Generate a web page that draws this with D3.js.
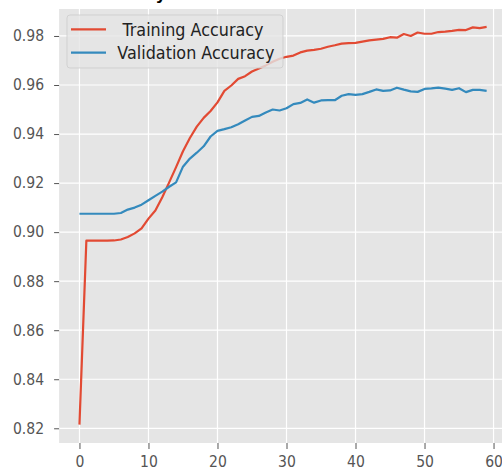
<!doctype html>
<html>
  <head>
    <meta charset="utf-8">
    <title>Training and Validation Accuracy</title>
    <script src="https://cdnjs.cloudflare.com/ajax/libs/d3/7.8.5/d3.min.js"></script>
    <style>
      body { margin: 0; background: #fff; }
      svg { display: block; font-family: "DejaVu Sans", sans-serif; }
    </style>
  </head>
  <body>
    <div id="chart"></div>
    <script>
      // data
      const epochs = d3.range(60);
      const trainAcc = [
        0.8215, 0.8965, 0.8965, 0.8965, 0.8965, 0.8966, 0.8970, 0.8980, 0.8995, 0.9015,
        0.9055, 0.9088, 0.9142, 0.9203, 0.9265, 0.9330, 0.9384, 0.9430, 0.9466, 0.9494,
        0.9529, 0.9576, 0.9598, 0.9625, 0.9636, 0.9655, 0.9667, 0.9680, 0.9695, 0.9707,
        0.9715, 0.9720, 0.9733, 0.9740, 0.9743, 0.9748, 0.9756, 0.9762, 0.9769, 0.9771,
        0.9772, 0.9777, 0.9782, 0.9785, 0.9788, 0.9795, 0.9793, 0.9808, 0.9800, 0.9814,
        0.9809, 0.9809, 0.9816, 0.9818, 0.9821, 0.9825, 0.9824, 0.9835, 0.9832, 0.9837
      ];
      const valAcc = [
        0.9075, 0.9075, 0.9075, 0.9075, 0.9075, 0.9075, 0.9078, 0.9092, 0.9100, 0.9112,
        0.9130, 0.9148, 0.9165, 0.9185, 0.9203, 0.9267, 0.9300, 0.9324, 0.9350, 0.9390,
        0.9413, 0.9420, 0.9428, 0.9440, 0.9455, 0.9470, 0.9474, 0.9488, 0.9500, 0.9496,
        0.9505, 0.9522, 0.9527, 0.9541, 0.9528, 0.9537, 0.9538, 0.9538, 0.9556, 0.9563,
        0.9560, 0.9563, 0.9572, 0.9582, 0.9576, 0.9578, 0.9589, 0.9581, 0.9574, 0.9572,
        0.9584, 0.9586, 0.9589, 0.9585, 0.9580, 0.9587, 0.9571, 0.9580, 0.9580, 0.9576
      ];
      const xTicks = [0, 10, 20, 30, 40, 50, 60];
      const yTicks = [0.82, 0.84, 0.86, 0.88, 0.90, 0.92, 0.94, 0.96, 0.98];
      const seriesNames = [' Training Accuracy', 'Validation Accuracy'];
      const seriesColors = ['#E24A33', '#348ABD'];

      const W = 502, H = 467;
      const plot = { left: 59.1, right: 507, top: 9, bottom: 443 };
      const stretch = 1.15; // the picture is a bit taller than wide, text too

      const x = d3.scaleLinear().domain([-2.95, 61.95]).range([plot.left, plot.right]);
      const y = d3.scaleLinear().domain([0.814, 0.991]).range([plot.bottom, plot.top]);

      const svg = d3.select('#chart').append('svg')
        .attr('width', W)
        .attr('height', H);

      // cut-off title above the plot
      svg.append('text')
        .attr('x', 166)
        .attr('y', 0)
        .attr('text-anchor', 'end')
        .attr('fill', '#000')
        .style('font-size', '16px')
        .style('font-weight', 'bold')
        .text('Accuracy');

      // background
      svg.append('rect')
        .attr('x', plot.left)
        .attr('y', plot.top)
        .attr('width', plot.right - plot.left)
        .attr('height', plot.bottom - plot.top)
        .attr('fill', '#E5E5E5');

      // grid
      const grid = svg.append('g');
      grid.selectAll('line.gx')
        .data(xTicks)
        .join('line')
        .attr('class', 'gx')
        .attr('x1', d => x(d)).attr('x2', d => x(d))
        .attr('y1', plot.top).attr('y2', plot.bottom)
        .attr('stroke', '#fff').attr('stroke-width', 1.2);
      grid.selectAll('line.gy')
        .data(yTicks)
        .join('line')
        .attr('class', 'gy')
        .attr('x1', plot.left).attr('x2', plot.right)
        .attr('y1', d => y(d)).attr('y2', d => y(d))
        .attr('stroke', '#fff').attr('stroke-width', 1.2);

      // axes
      const xAxis = svg.append('g')
        .attr('transform', `translate(0,${plot.bottom})`)
        .call(d3.axisBottom(x).tickValues(xTicks).tickSize(6).tickFormat(d3.format('d')));
      const yAxis = svg.append('g')
        .attr('transform', `translate(${plot.left},0)`)
        .call(d3.axisLeft(y).tickValues(yTicks).tickSize(5).tickPadding(10).tickFormat(d3.format('.2f')));

      [xAxis, yAxis].forEach(a => {
        a.select('.domain').remove();
        a.selectAll('.tick line').attr('stroke', '#555').attr('stroke-width', 1);
        a.selectAll('.tick text')
          .attr('fill', '#555')
          .attr('transform', `scale(1,${stretch})`)
          .style('font-size', '14px')
          .style('font-family', '"DejaVu Sans", sans-serif');
      });
      xAxis.selectAll('.tick text')
        .attr('y', 24 / stretch)
        .attr('dy', 0);
      yAxis.selectAll('.tick text')
        .attr('dy', '0.3em');

      // lines
      const line = d3.line()
        .x((d, i) => x(epochs[i]))
        .y(d => y(d));

      [trainAcc, valAcc].forEach((s, i) => {
        svg.append('path')
          .datum(s)
          .attr('d', line)
          .attr('fill', 'none')
          .attr('stroke', seriesColors[i])
          .attr('stroke-width', 2.2)
          .attr('stroke-linejoin', 'round');
      });

      // legend
      const legend = svg.append('g');
      legend.append('rect')
        .attr('x', 67).attr('y', 15)
        .attr('width', 216).attr('height', 53)
        .attr('rx', 3)
        .attr('fill', '#E5E5E5').attr('fill-opacity', 0.8)
        .attr('stroke', '#CCCCCC').attr('stroke-opacity', 0.8);

      const items = legend.selectAll('g.item')
        .data(seriesNames)
        .join('g')
        .attr('class', 'item')
        .attr('transform', (d, i) => `translate(71,${29.3 + i * 23.4})`);
      items.append('line')
        .attr('x1', 0).attr('x2', 35)
        .attr('stroke', (d, i) => seriesColors[i])
        .attr('stroke-width', 2.2);
      items.append('text')
        .attr('x', 46.3)
        .attr('dy', '0.35em')
        .attr('fill', '#222')
        .attr('transform', `scale(1,${stretch})`)
        .style('font-size', '16px')
        .style('white-space', 'pre')
        .text(d => d);
    </script>
  </body>
</html>
